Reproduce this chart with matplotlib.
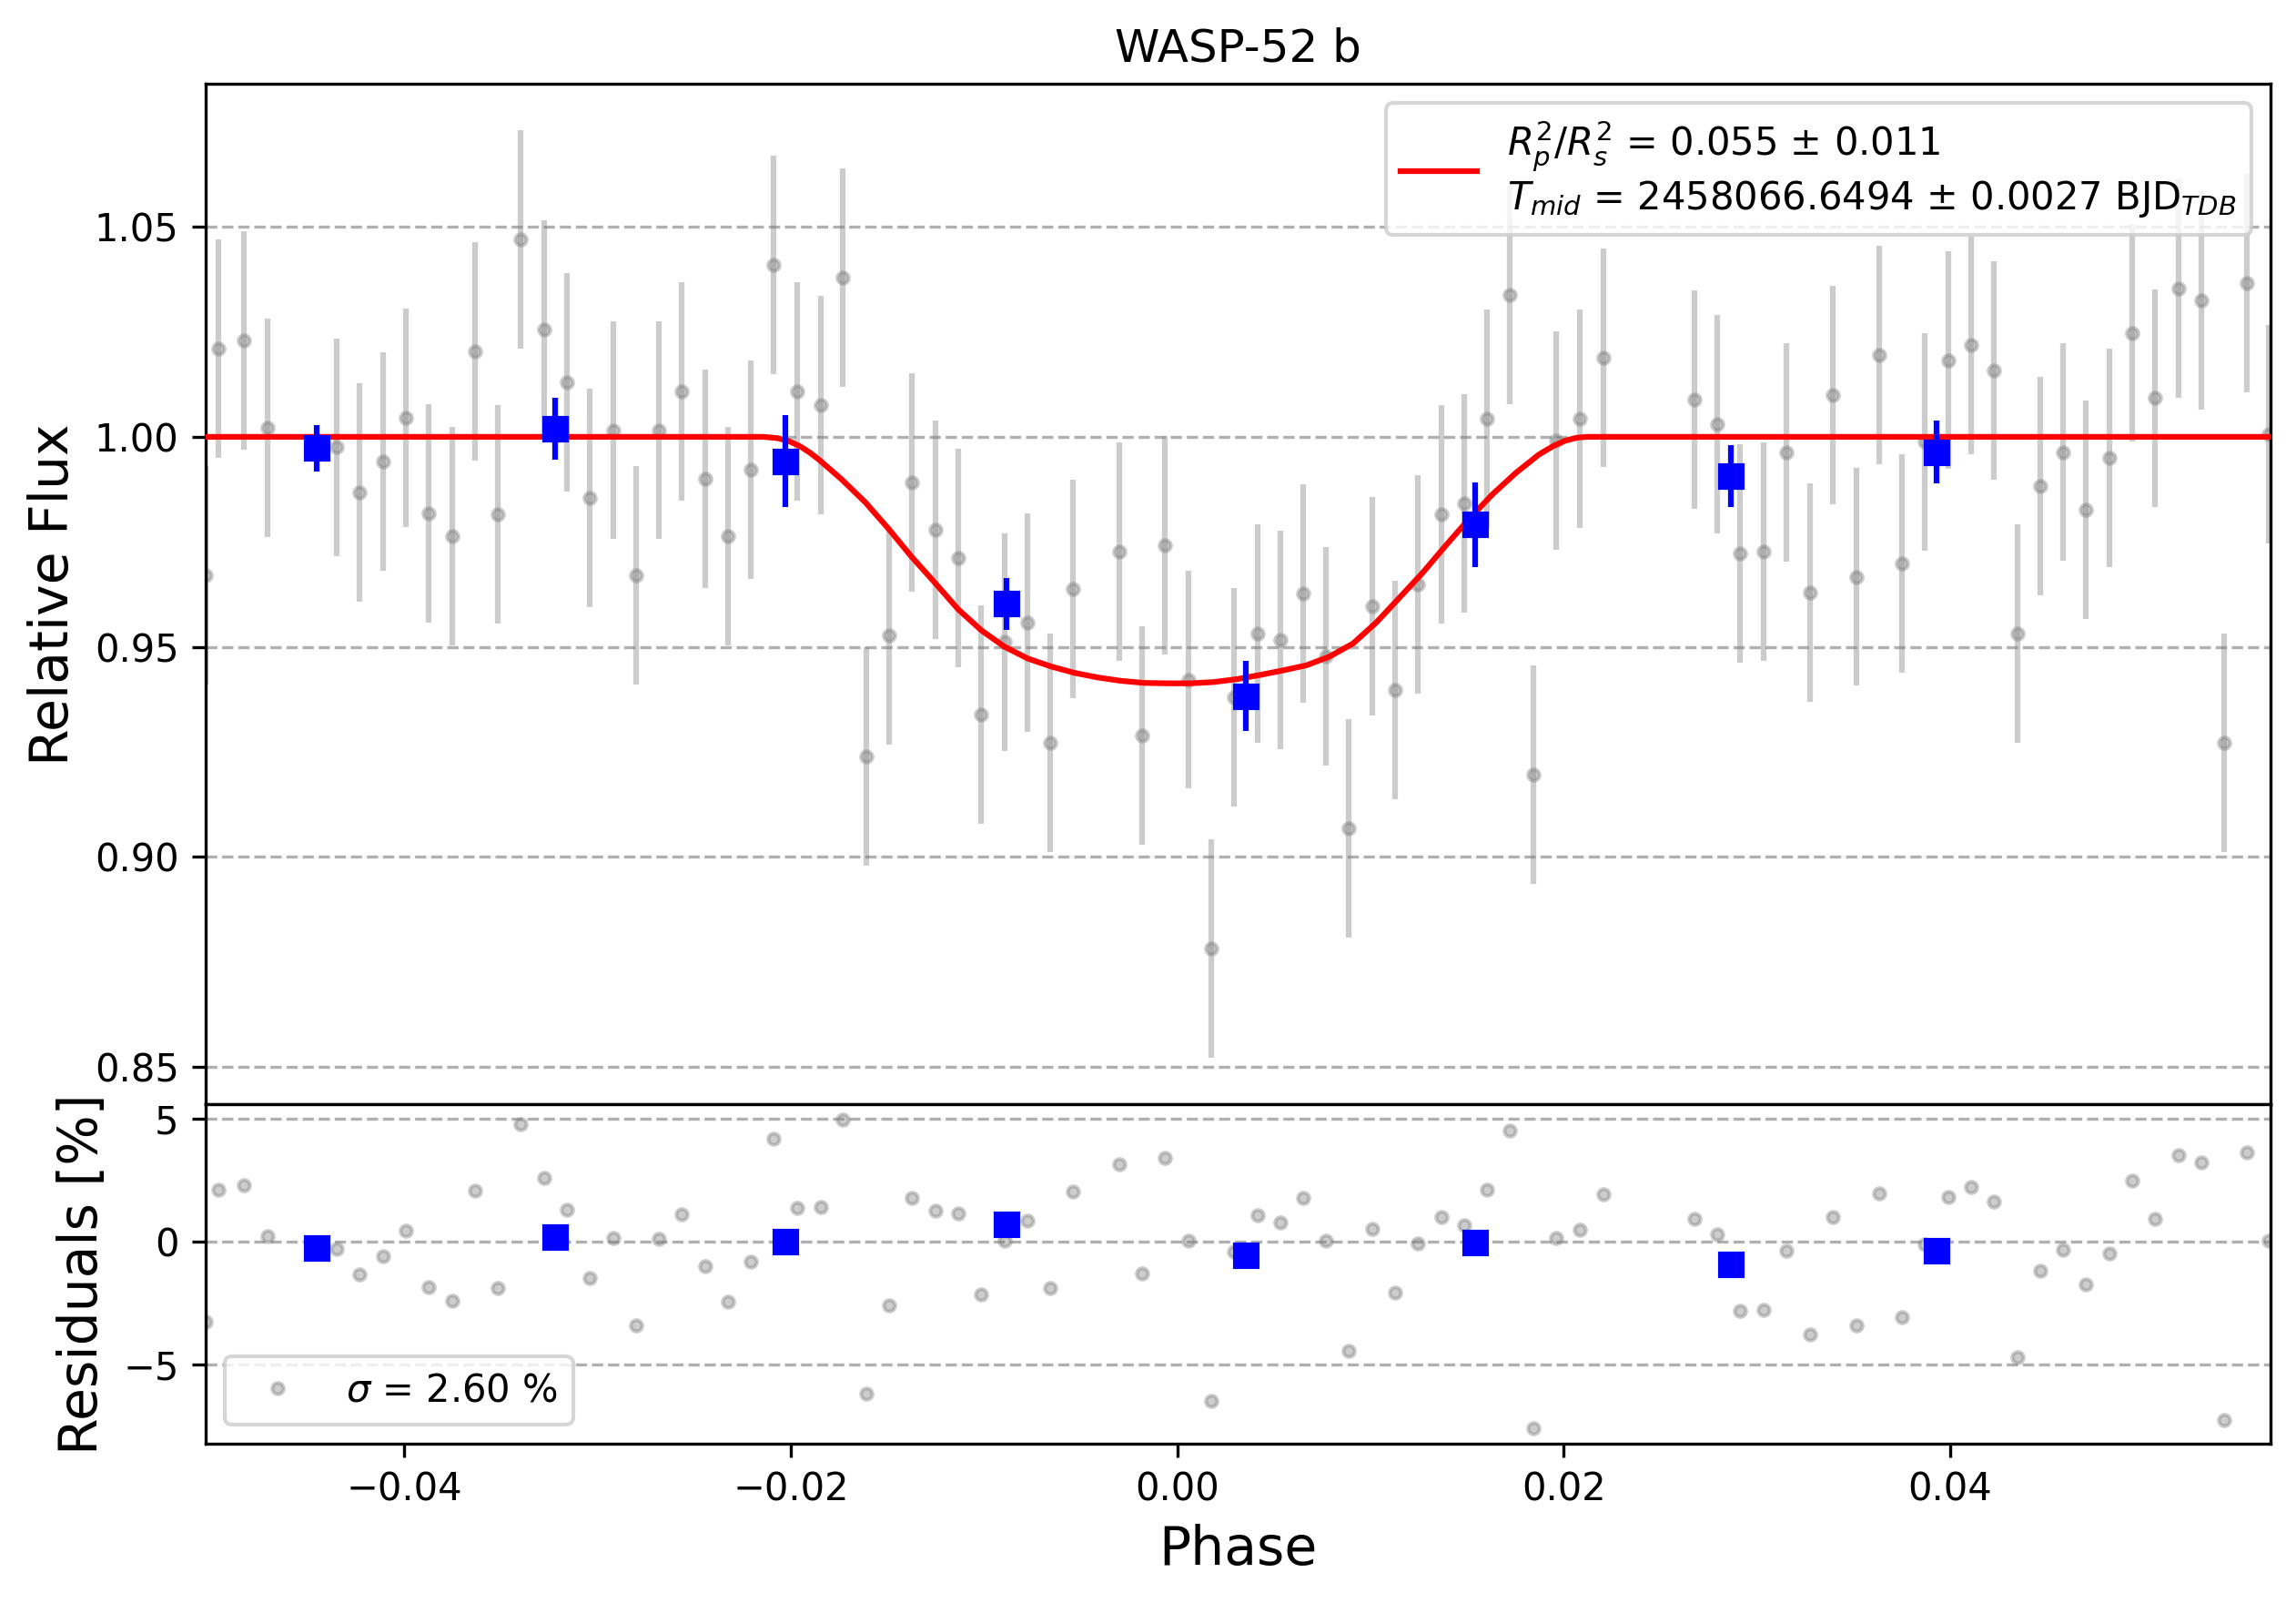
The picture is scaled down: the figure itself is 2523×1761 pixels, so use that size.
import numpy as np
import matplotlib
matplotlib.use("Agg")
import matplotlib.pyplot as plt

# unbinned light curve (phase, relative flux) and residuals in %
phase = [
    -0.05030, -0.04964, -0.04829, -0.04711, -0.04351, -0.04233, -0.04112, -0.03992, -0.03875, -0.03753,
    -0.03636, -0.03518, -0.03399, -0.03277, -0.03159, -0.03042, -0.02918, -0.02802, -0.02683, -0.02564,
    -0.02444, -0.02326, -0.02208, -0.02090, -0.01966, -0.01846, -0.01730, -0.01610, -0.01490, -0.01373,
    -0.01253, -0.01133, -0.01015, -0.00895, -0.00774, -0.00657, -0.00539, -0.00298, -0.00181, -0.00062,
    0.00057, 0.00177, 0.00292, 0.00416, 0.00535, 0.00653, 0.00771, 0.00889, 0.01011, 0.01129,
    0.01247, 0.01370, 0.01487, 0.01606, 0.01723, 0.01845, 0.01963, 0.02083, 0.02205, 0.02680,
    0.02798, 0.02915, 0.03037, 0.03156, 0.03276, 0.03393, 0.03515, 0.03634, 0.03753, 0.03872,
    0.03992, 0.04110, 0.04229, 0.04349, 0.04467, 0.04587, 0.04704, 0.04824, 0.04943, 0.05063,
    0.05186, 0.05302, 0.05422, 0.05539, 0.05649,
]
flux = [
    0.9670, 1.0211, 1.0230, 1.0022, 0.9975, 0.9867, 0.9941, 1.0045, 0.9817, 0.9763,
    1.0203, 0.9816, 1.0470, 1.0255, 1.0130, 0.9855, 1.0016, 0.9670, 1.0016, 1.0108,
    0.9900, 0.9763, 0.9922, 1.0409, 1.0108, 1.0075, 1.0380, 0.9238, 0.9527, 0.9891,
    0.9778, 0.9711, 0.9339, 0.9511, 0.9558, 0.9272, 0.9638, 0.9727, 0.9288, 0.9742,
    0.9422, 0.8781, 0.9380, 0.9531, 0.9517, 0.9627, 0.9478, 0.9067, 0.9597, 0.9397,
    0.9648, 0.9816, 0.9842, 1.0044, 1.0338, 0.9195, 0.9992, 1.0044, 1.0189, 1.0089,
    1.0030, 0.9722, 0.9727, 0.9963, 0.9630, 1.0100, 0.9667, 1.0195, 0.9698, 0.9988,
    1.0183, 1.0219, 1.0159, 0.9531, 0.9883, 0.9964, 0.9827, 0.9950, 1.0248, 1.0092,
    1.0353, 1.0325, 0.9272, 1.0366, 1.0006,
]
flux_err = 0.026
resid = [
    -3.26, 2.11, 2.30, 0.23, -0.27, -1.33, -0.59, 0.44, -1.85, -2.38,
    2.07, -1.89, 4.78, 2.59, 1.30, -1.47, 0.15, -3.38, 0.11, 1.11,
    -1.00, -2.44, -0.79, 4.21, 1.37, 1.41, 4.98, -6.19, -2.59, 1.79,
    1.28, 1.15, -2.15, 0.04, 0.85, -1.89, 2.04, 3.15, -1.30, 3.41,
    0.06, -6.48, -0.40, 1.09, 0.78, 1.78, 0.04, -4.44, 0.53, -2.07,
    -0.06, 1.01, 0.68, 2.11, 4.54, -7.59, 0.14, 0.49, 1.93, 0.94,
    0.31, -2.81, -2.77, -0.37, -3.78, 1.01, -3.41, 1.98, -3.07, -0.09,
    1.81, 2.22, 1.64, -4.68, -1.17, -0.33, -1.74, -0.48, 2.48, 0.94,
    3.53, 3.25, -7.25, 3.64, 0.04,
]

# binned points
bin_phase = [-0.04455, -0.03218, -0.02026, -0.00884, 0.00356, 0.01545, 0.02865, 0.03930]
bin_flux = [0.9973, 1.0020, 0.9942, 0.9602, 0.9383, 0.9791, 0.9906, 0.9964]
bin_err = [0.0055, 0.0074, 0.0109, 0.0062, 0.0084, 0.0101, 0.0074, 0.0075]
bin_resid = [-0.26, 0.19, 0.00, 0.70, -0.56, -0.04, -0.93, -0.37]

# transit model curve
model_phase = [
    -0.0503, -0.0214, -0.0207, -0.0201, -0.0195, -0.0190, -0.01855, -0.01735, -0.01614, -0.01494,
    -0.01374, -0.01253, -0.01133, -0.01013, -0.00893, -0.00773, -0.00652, -0.00532, -0.00412, -0.00292,
    -0.00172, -0.00051, 0.00069, 0.00189, 0.00310, 0.00430, 0.00550, 0.00670, 0.00790, 0.00911,
    0.01031, 0.01151, 0.01272, 0.01392, 0.01512, 0.01632, 0.01753, 0.01873, 0.01950, 0.02010,
    0.02070, 0.02120, 0.0566,
]
model_flux = [
    1.0000, 1.0000, 0.9997, 0.9990, 0.9977, 0.9962, 0.9946, 0.9898, 0.9844, 0.9781,
    0.9714, 0.9652, 0.9589, 0.9539, 0.9500, 0.9472, 0.9453, 0.9438, 0.9427, 0.9419,
    0.9414, 0.9413, 0.9413, 0.9416, 0.9423, 0.9433, 0.9444, 0.9456, 0.9477, 0.9508,
    0.9558, 0.9617, 0.9677, 0.9742, 0.9805, 0.9863, 0.9914, 0.9958, 0.9979, 0.9991,
    0.9998, 1.0000, 1.0000,
]

rp_label = r"$R_p^2/R_s^2$ = 0.055 $\pm$ 0.011" + "\n" + \
    r"$T_{mid}$ = 2458066.6494 $\pm$ 0.0027 BJD$_{TDB}$"
sigma_label = r"$\sigma$ = 2.60 %"

fig = plt.figure(figsize=(8.41, 5.87), dpi=300)
ax1 = fig.add_axes([0.0895, 0.3110, 0.8994, 0.6365])
ax2 = fig.add_axes([0.0895, 0.0994, 0.8994, 0.2116])

# top panel: light curve
ax1.errorbar(phase, flux, yerr=flux_err, ls='none', marker='o', ms=3,
             color='gray', alpha=0.4, zorder=2)
ax1.plot(model_phase, model_flux, color='r', lw=1.5, zorder=3, label=rp_label)
ax1.errorbar(bin_phase, bin_flux, yerr=bin_err, ls='none', marker='s', ms=6,
             color='blue', zorder=4)
ax1.set_xlim(-0.0503, 0.0566)
ax1.set_ylim(0.841, 1.084)
ax1.set_yticks([0.85, 0.90, 0.95, 1.00, 1.05])
ax1.grid(axis='y', ls='--')
ax1.tick_params(axis='x', bottom=False, labelbottom=False)
ax1.set_ylabel("Relative Flux", fontsize=14)
ax1.set_title("WASP-52 b")
ax1.legend(loc='upper right')

# bottom panel: residuals
ax2.plot(phase, resid, ls='none', marker='o', ms=3, color='gray', alpha=0.4,
         zorder=2, label=sigma_label)
ax2.plot(bin_phase, bin_resid, ls='none', marker='s', ms=6, color='blue', zorder=4)
ax2.set_xlim(-0.0503, 0.0566)
ax2.set_ylim(-8.21, 5.59)
ax2.set_yticks([-5, 0, 5])
ax2.grid(axis='y', ls='--')
ax2.set_xlabel("Phase", fontsize=14)
ax2.set_ylabel("Residuals [%]", fontsize=14)
ax2.legend(loc='lower left')

fig.savefig("out.png", dpi=300)
